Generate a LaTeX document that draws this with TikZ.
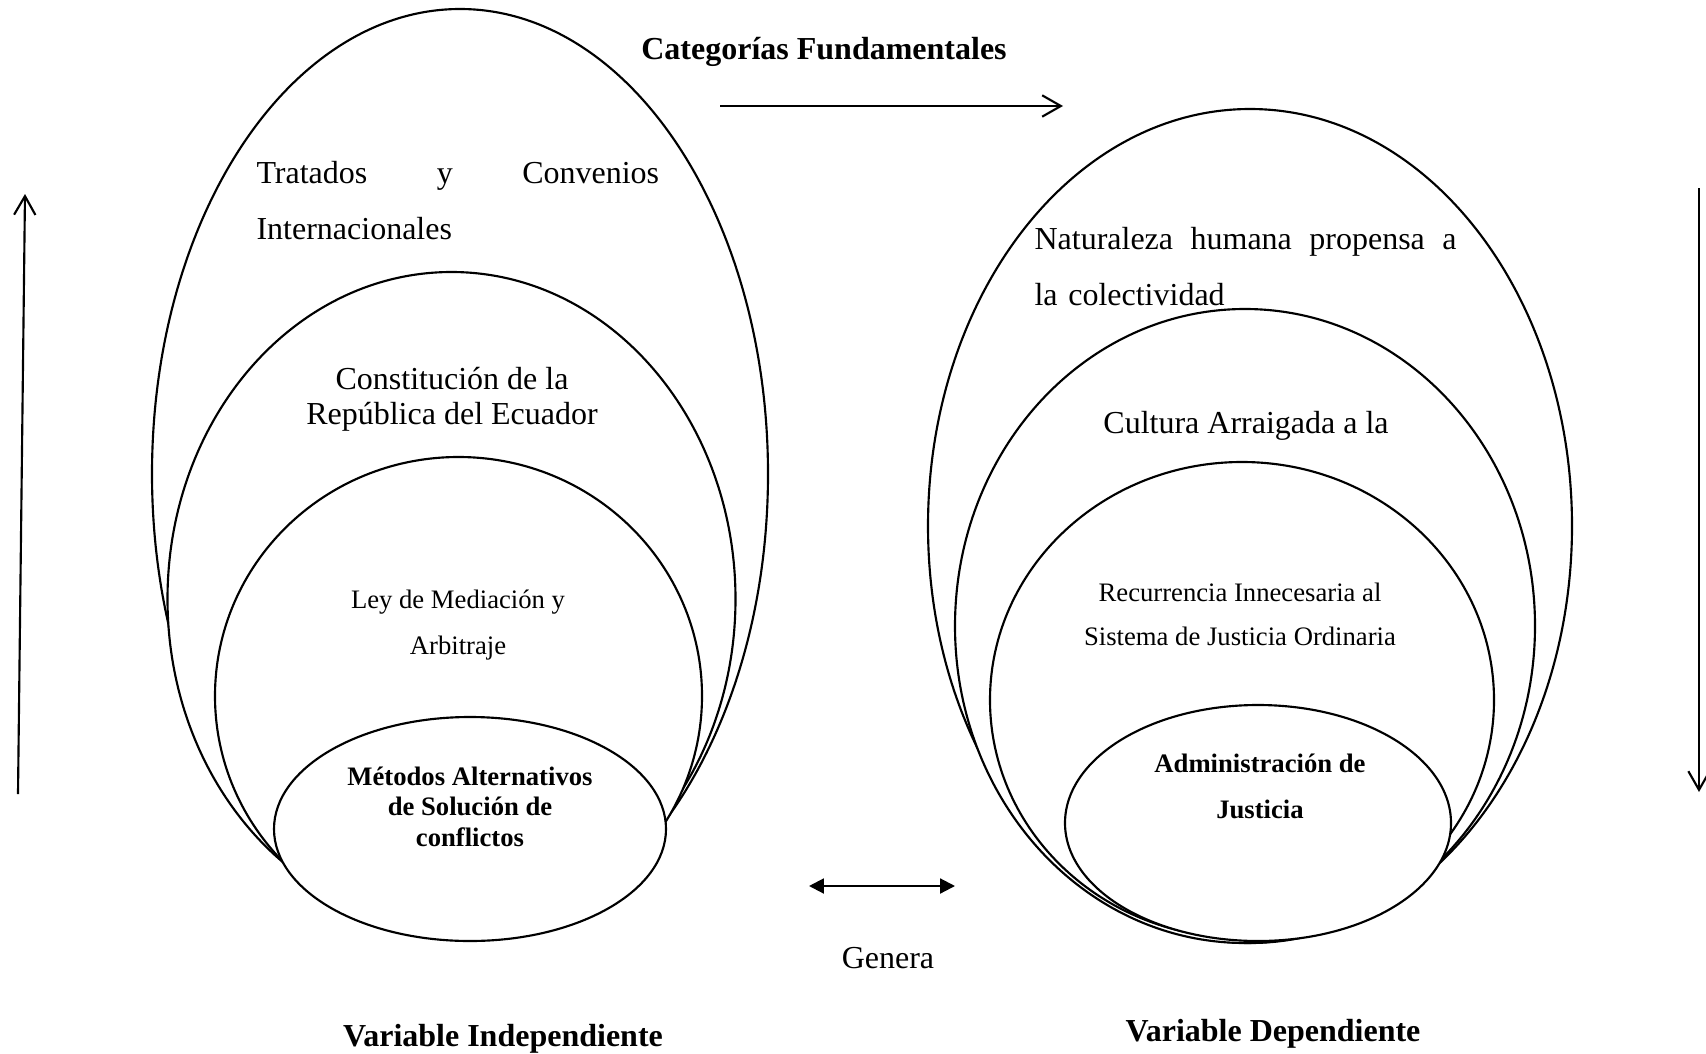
\documentclass[tikz,border=0pt]{standalone}
\usepackage{fontspec}
\setmainfont{Liberation Serif}
\usetikzlibrary{shapes.geometric,arrows.meta}

\begin{document}
\begin{tikzpicture}
        [x=0.375pt,y=-0.375pt,
        ovaldecorate/.style={shape=ellipse,inner sep=0pt,draw,thick,fill=white},%
        arrowdecorate/.style={-{Straight Barb[length=7pt,width=8pt]},thick},%
        genoradecorate/.style={{Triangle[length=5.6pt,width=5.6pt]}-{Triangle[length=5.6pt,width=5.6pt]},thick},%
        textdecorate/.style={inner sep=0pt,anchor=base,font=\fontsize{12}{14}\selectfont}]
        \useasboundingbox (0,0) rectangle (1706,1053);
        %% ellipses, outer ones first
        \foreach \nodename/\x/\y/\rx/\ry in {tratados/460/474/308/465,
          constitucion/451.5/599/284/327, ley/458.5/696/243.5/239, metodos/470/829/196/112,
          naturaleza/1250/526/322/417, cultura/1245/626/290/317,
          recurrencia/1242/700/252/238, administracion/1258/823/193/118}
        {
          \node (\nodename) at (\x,\y) [ovaldecorate,minimum width=\rx*0.75pt,minimum height=\ry*0.75pt] {};
        }
        %% texts (centred blocks sit on their last line)
        \node (titulo) at (824,59) [textdecorate,font=\fontsize{12}{14}\selectfont\bfseries] {Categorías Fundamentales};
        \node (ttratados) at (256,183) [textdecorate,anchor=base west,text width=151pt,align=left,font=\fontsize{12}{21}\selectfont]
          {Tratados\hfill y\hfill Convenios\\Internacionales};
        \node (tconstitucion) at (452,424) [textdecorate,align=center,font=\fontsize{12}{12.8}\selectfont]
          {Constitución de la\\República del Ecuador};
        \node (tley) at (458,654) [textdecorate,align=center,font=\fontsize{10}{17.25}\selectfont]
          {Ley de Mediación y\\Arbitraje};
        \node (tmetodos) at (470,846) [textdecorate,align=center,font=\fontsize{10}{11.4}\selectfont\bfseries]
          {Métodos Alternativos\\de Solución de\\conflictos};
        \node (tnaturaleza) at (1034,249) [textdecorate,anchor=base west,text width=158.25pt,align=left,font=\fontsize{12}{21}\selectfont]
          {Naturaleza\hfill humana\hfill propensa\hfill a\\la colectividad};
        \node (tcultura) at (1246,433) [textdecorate] {Cultura Arraigada a la};
        \node (trecurrencia) at (1240,645) [textdecorate,align=center,font=\fontsize{10}{16.5}\selectfont]
          {Recurrencia Innecesaria al\\Sistema de Justicia Ordinaria};
        \node (tadministracion) at (1260,818) [textdecorate,align=center,font=\fontsize{10}{17.25}\selectfont\bfseries]
          {Administración de\\Justicia};
        \node (genera) at (888,968) [textdecorate] {Genera};
        \node (independiente) at (503,1046) [textdecorate,font=\fontsize{12}{14}\selectfont\bfseries] {Variable Independiente};
        \node (dependiente) at (1273,1041) [textdecorate,font=\fontsize{12}{14}\selectfont\bfseries] {Variable Dependiente};
        %% arrows
        \coordinate (topstart) at (720,106);
        \coordinate (topend) at (1063,106);
        \coordinate (leftstart) at (18,794);
        \coordinate (leftend) at (25,194);
        \coordinate (rightstart) at (1699,188);
        \coordinate (rightend) at (1699,792);
        \coordinate (generaleft) at (809,886);
        \coordinate (generaright) at (955,886);
        \draw[arrowdecorate] (topstart) -- (topend);
        \draw[arrowdecorate] (leftstart) -- (leftend);
        \draw[arrowdecorate] (rightstart) -- (rightend);
        \draw[genoradecorate] (generaleft) -- (generaright);
      \end{tikzpicture}
\end{document}
